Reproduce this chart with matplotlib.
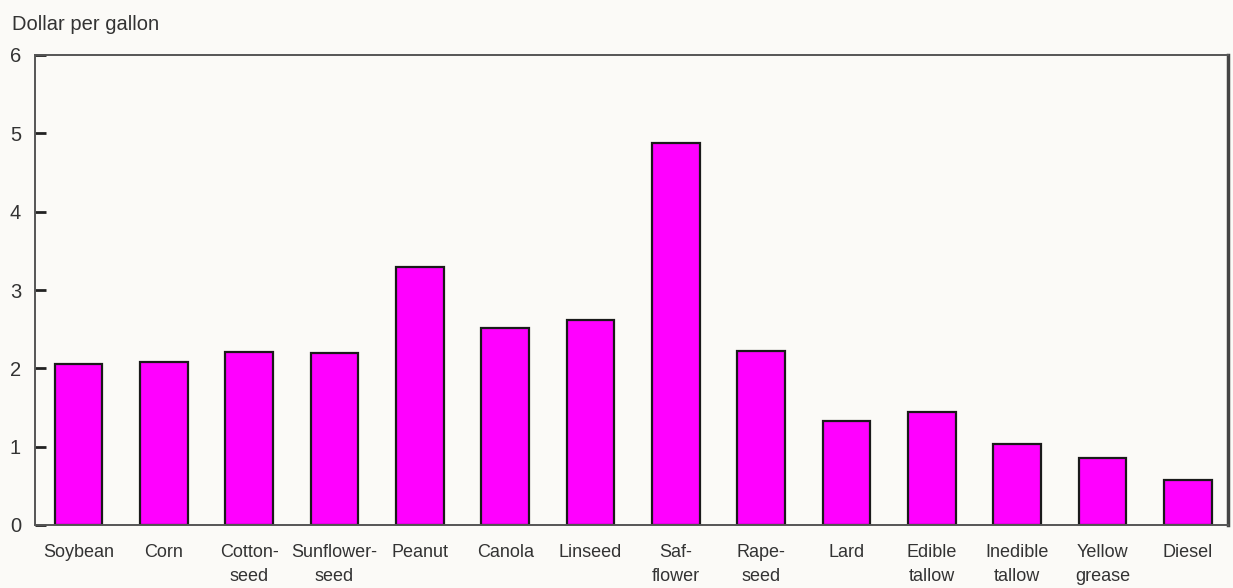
import matplotlib
matplotlib.use("Agg")
import matplotlib.pyplot as plt

categories = ["Soybean", "Corn", "Cotton-\nseed", "Sunflower-\nseed", "Peanut", "Canola",
              "Linseed", "Saf-\nflower", "Rape-\nseed", "Lard", "Edible\ntallow",
              "Inedible\ntallow", "Yellow\ngrease", "Diesel"]
values = [2.06, 2.08, 2.21, 2.20, 3.30, 2.52, 2.62, 4.88, 2.22, 1.33, 1.44, 1.03, 0.86, 0.57]
yticks = [0, 1, 2, 3, 4, 5, 6]

plt.rcParams['font.family'] = ['Liberation Sans', 'DejaVu Sans']
bg = '#fbfaf7'
txt = '#333333'

fig = plt.figure(figsize=(12.33, 5.88), dpi=100, facecolor=bg)
ax = fig.add_axes([35/1233, 1-525/588, (1228-35)/1233, (525-55)/588])
ax.set_facecolor(bg)

x = list(range(len(categories)))
ax.bar(x, values, width=0.56, color='#ff00ff', edgecolor='#1a1a1a', linewidth=1.6, zorder=2)

ax.set_xlim(-0.51, 13.47)
ax.set_ylim(0, 6)
ax.set_yticks(yticks)
ax.set_yticklabels([str(t) for t in yticks])
ax.set_xticks(x)
ax.set_xticklabels(categories, linespacing=1.5, va='top')

ax.tick_params(axis='y', direction='in', length=8, width=2, color='#222222', pad=10,
               labelsize=14.5, labelcolor=txt)
ax.tick_params(axis='x', length=0, pad=14, labelsize=13, labelcolor=txt)

for side, sp in ax.spines.items():
    sp.set_color('#555555')
    sp.set_linewidth(1.4)
ax.spines['right'].set_linewidth(2.5)
ax.spines['right'].set_color('#444444')

fig.text(12/1233, 1-24/588, "Dollar per gallon", fontsize=14.5, color=txt, va='center', ha='left')

fig.savefig("out.png", dpi=100, facecolor=bg)
